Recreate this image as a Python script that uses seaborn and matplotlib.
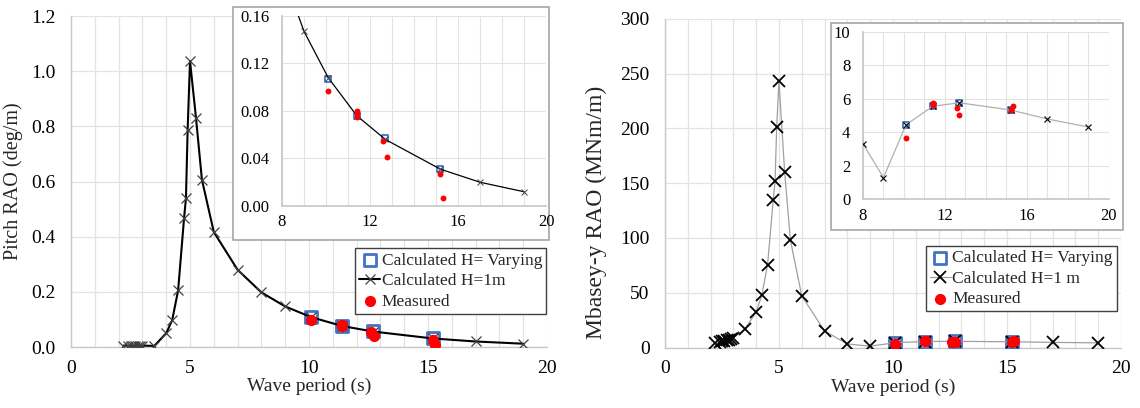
import numpy as np
import pandas as pd
import matplotlib
matplotlib.use("Agg")
import matplotlib.pyplot as plt
import seaborn as sns
from matplotlib.patches import Rectangle

sns.set_theme(style="white")
plt.rcParams['font.family'] = ['Liberation Serif', 'DejaVu Serif']

# ---------------- data ----------------
period_h1 = [2.2, 2.4, 2.5, 2.6, 2.7, 2.8, 2.9, 3.0, 3.5, 4.0, 4.25, 4.5, 4.75,
             4.83, 4.9, 5.0, 5.25, 5.5, 6.0, 7.0, 8.0, 9.0, 10.1, 11.4, 12.7,
             15.2, 17.0, 19.0]
pitch_h1 = [0.005, 0.005, 0.005, 0.005, 0.005, 0.005, 0.005, 0.005, 0.004,
            0.050, 0.097, 0.205, 0.467, 0.540, 0.787, 1.037, 0.832, 0.607,
            0.417, 0.280, 0.198, 0.147, 0.108, 0.076, 0.056, 0.031, 0.020,
            0.012]
moment_h1 = [4.0, 5.0, 5.6, 6.2, 6.8, 7.4, 8.0, 8.8, 17.0, 32.3, 48.1, 75.5,
             135.0, 152.0, 201.0, 243.0, 160.0, 98.3, 47.2, 15.2, 3.3, 1.3,
             4.45, 5.55, 5.76, 5.33, 4.79, 4.31]

period_var = [10.1, 11.4, 12.7, 15.2]
pitch_var = [0.107, 0.076, 0.057, 0.031]
moment_var = [4.45, 5.55, 5.76, 5.33]

period_meas = [10.1, 11.4, 11.4, 11.4, 12.6, 12.75, 15.2, 15.3]
pitch_meas = [0.097, 0.080, 0.075, 0.078, 0.055, 0.041, 0.027, 0.007]
period_meas_m = [10.1, 11.4, 11.4, 12.6, 12.7, 15.2, 15.3]
moment_meas = [3.64, 5.77, 5.60, 5.45, 5.03, 5.33, 5.59]

lab_var = "Calculated H= Varying"
lab_h1_left = "Calculated H=1m"
lab_h1_right = "Calculated H=1 m"
lab_meas = "Measured"

BLUE = "#4472C4"
RED = "#FF0000"
GRID = "#e3e3e3"
SPINE = "#c8c8c8"

fig = plt.figure(figsize=(11.4, 4.08), dpi=100)


def style_main(ax, ymax, ystep, ylabel, ylabelsize):
    ax.set_xlim(0, 20)
    ax.set_ylim(0, ymax)
    ax.set_xticks(np.arange(0, 21, 5))
    ax.set_xticks(np.arange(0, 21, 1), minor=True)
    ax.set_yticks(np.arange(0, ymax + ystep / 2, ystep))
    ax.grid(True, which='both', axis='x', color=GRID, lw=0.9)
    ax.grid(True, which='major', axis='y', color=GRID, lw=0.9)
    ax.set_axisbelow(True)
    for s in ['top', 'right']:
        ax.spines[s].set_visible(False)
    for s in ['left', 'bottom']:
        ax.spines[s].set_color(SPINE)
        ax.spines[s].set_linewidth(1.0)
    ax.tick_params(axis='both', which='both', length=0, labelsize=14,
                   colors='black')
    ax.tick_params(axis='y', pad=11)
    ax.tick_params(axis='x', pad=9)
    ax.set_xlabel("Wave period (s)", fontsize=14, labelpad=1)
    ax.set_ylabel(ylabel, fontsize=ylabelsize, labelpad=6)


def style_inset(ax, ylim, yticks, yfmt):
    ax.set_facecolor('white')
    ax.set_xlim(8, 20)
    ax.set_ylim(*ylim)
    ax.set_xticks([8, 12, 16, 20])
    ax.set_xticks(np.arange(8, 21, 1), minor=True)
    ax.set_yticks(yticks)
    ax.set_yticklabels([yfmt.format(v) for v in yticks])
    ax.grid(True, which='both', axis='x', color=GRID, lw=0.8)
    ax.grid(True, which='major', axis='y', color=GRID, lw=0.8)
    ax.set_axisbelow(True)
    for s in ['top', 'right']:
        ax.spines[s].set_visible(False)
    for s in ['left', 'bottom']:
        ax.spines[s].set_color(SPINE)
    ax.tick_params(axis='both', which='both', length=0, labelsize=12,
                   colors='black')
    ax.tick_params(axis='y', pad=9)
    ax.tick_params(axis='x', pad=6)
    ax.set_xlabel("")
    ax.set_ylabel("")


def frame(fig, rect):
    fig.patches.append(Rectangle((rect[0], rect[1]), rect[2], rect[3],
                                 transform=fig.transFigure, facecolor='white',
                                 edgecolor='#a6a6a6', lw=1.2, zorder=1))


# ================ LEFT: Pitch ================
axL = fig.add_axes([0.0623, 0.1495, 0.4175, 0.811])
sns.scatterplot(x=period_var, y=pitch_var, ax=axL, marker='s', s=70,
                facecolor='white', edgecolor=BLUE, linewidth=2.0,
                label=lab_var, zorder=3)
sns.lineplot(x=period_h1, y=pitch_h1, ax=axL, color='black', lw=1.5,
             marker='x', markersize=7, markeredgecolor='#404040',
             markeredgewidth=0.9, sort=False, estimator=None,
             label=lab_h1_left, zorder=4)
sns.scatterplot(x=period_meas, y=pitch_meas, ax=axL, marker='o', s=65,
                color=RED, edgecolor=RED, linewidth=0, label=lab_meas,
                zorder=5)
style_main(axL, 1.2, 0.2, "Pitch RAO (deg/m)", 14.5)
axL.set_yticklabels([f"{v:.1f}" for v in np.arange(0, 1.21, 0.2)])
axL.legend(loc='upper right', bbox_to_anchor=(0.999, 0.298), fontsize=12.5,
           frameon=True, fancybox=False, edgecolor='#404040',
           framealpha=1, borderpad=0.25, handletextpad=0.1,
           handlelength=1.2, labelspacing=0.25, borderaxespad=0)

frame(fig, [0.2044, 0.4118, 0.2772, 0.571])
axLi = fig.add_axes([0.2474, 0.4951, 0.2316, 0.4657])
axLi.set_zorder(3)
sns.scatterplot(x=period_var, y=pitch_var, ax=axLi, marker='s', s=24,
                facecolor='white', edgecolor=BLUE, linewidth=1.3,
                legend=False, zorder=3)
sns.lineplot(x=period_h1, y=pitch_h1, ax=axLi, color='black', lw=0.9,
             marker='x', markersize=4.5, markeredgecolor='#404040',
             markeredgewidth=0.7, sort=False, estimator=None, legend=False,
             zorder=4)
sns.scatterplot(x=period_meas, y=pitch_meas, ax=axLi, marker='o', s=18,
                color=RED, edgecolor=RED, linewidth=0, legend=False,
                zorder=5)
style_inset(axLi, (0, 0.16), [0.0, 0.04, 0.08, 0.12, 0.16], "{:.2f}")

# ================ RIGHT: Moment ================
axR = fig.add_axes([0.5833, 0.148, 0.4, 0.806])
sns.scatterplot(x=period_var, y=moment_var, ax=axR, marker='s', s=70,
                facecolor='white', edgecolor=BLUE, linewidth=2.0,
                label=lab_var, zorder=3)
sns.lineplot(x=period_h1, y=moment_h1, ax=axR, color='#a0a0a0', lw=0.9,
             marker='x', markersize=8, markeredgecolor='black',
             markeredgewidth=1.3, sort=False, estimator=None,
             label=lab_h1_right, zorder=4)
sns.scatterplot(x=period_meas_m, y=moment_meas, ax=axR, marker='o', s=65,
                color=RED, edgecolor=RED, linewidth=0, label=lab_meas,
                zorder=5)
style_main(axR, 300, 50, "Mbasey-y RAO (MNm/m)", 17)
axR.yaxis.set_label_coords(-0.128, 0.41)
axR.legend(loc='upper right', bbox_to_anchor=(0.992, 0.31), fontsize=12.5,
           frameon=True, fancybox=False, edgecolor='#404040',
           framealpha=1, borderpad=0.25, handletextpad=0.1,
           handlelength=1.2, labelspacing=0.25, borderaxespad=0)

frame(fig, [0.729, 0.4363, 0.2561, 0.507])
axRi = fig.add_axes([0.757, 0.5115, 0.2158, 0.4108])
axRi.set_zorder(3)
sns.scatterplot(x=period_var, y=moment_var, ax=axRi, marker='s', s=24,
                facecolor='white', edgecolor=BLUE, linewidth=1.3,
                legend=False, zorder=3)
sns.lineplot(x=period_h1, y=moment_h1, ax=axRi, color='#b0b0b0', lw=0.9,
             marker='x', markersize=4.5, markeredgecolor='black',
             markeredgewidth=0.8, sort=False, estimator=None, legend=False,
             zorder=4)
sns.scatterplot(x=period_meas_m, y=moment_meas, ax=axRi, marker='o', s=18,
                color=RED, edgecolor=RED, linewidth=0, legend=False,
                zorder=5)
style_inset(axRi, (0, 10), [0, 2, 4, 6, 8, 10], "{:.0f}")

fig.savefig("out.png", dpi=100)
